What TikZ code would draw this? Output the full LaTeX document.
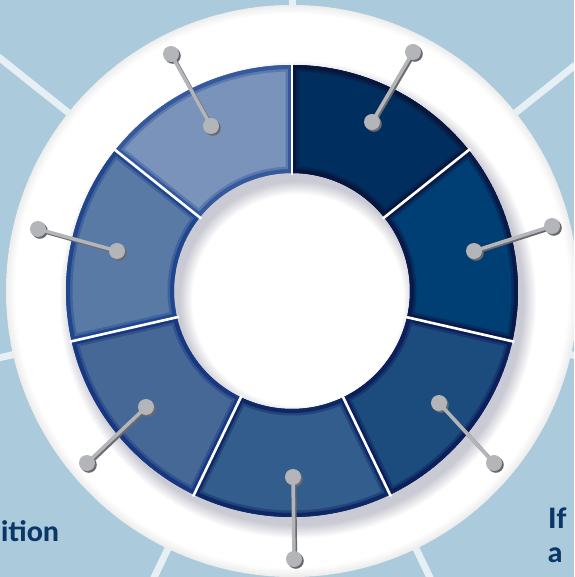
\documentclass[tikz,border=0pt]{standalone}
\usepackage{fontspec}
\setmainfont{Lato}
\newfontfamily\capfont{Lato Heavy}
\usetikzlibrary{calc}

\definecolor{bgblue}{HTML}{ABCADC}
\definecolor{navytext}{HTML}{0B3768}
\definecolor{pingray}{HTML}{B4B5B9}
\definecolor{pinshade}{HTML}{6A6B70}
\definecolor{segA}{HTML}{002F5F}
\definecolor{segB}{HTML}{003F73}
\definecolor{segC}{HTML}{1B4C7D}
\definecolor{segD}{HTML}{335D8C}
\definecolor{segE}{HTML}{466896}
\definecolor{segF}{HTML}{5A7AA6}
\definecolor{segG}{HTML}{7A93BB}
\definecolor{rimA}{HTML}{08163D}
\definecolor{rimB}{HTML}{0A1A48}
\definecolor{rimC}{HTML}{0C1F5A}
\definecolor{rimD}{HTML}{0E2866}
\definecolor{rimE}{HTML}{183780}
\definecolor{rimF}{HTML}{20468E}
\definecolor{rimG}{HTML}{35599C}

% one piece of the ring, from angle #1 down to angle #2
\newcommand{\ringpiece}[2]{(#1:118) -- (#1:226) arc[start angle=#1, end angle=#2, radius=226] -- (#2:118) arc[start angle=#2, end angle=#1, radius=118] -- cycle}

\begin{document}
\begin{tikzpicture}[
    x=1pt, y=1pt,
    ray/.style={white, opacity=0.7, line width=7pt},
    gap/.style={white, line width=2.6pt},
    ball/.style={circle, fill=pingray, inner sep=0pt, minimum size=16pt},
    pin/.style={pingray, line width=3.5pt},
    pinshadow/.style={pinshade, line width=3.5pt},
    lbl/.style={font=\capfont\fontsize{28}{32}\selectfont, text=navytext, inner sep=0pt}
]
\useasboundingbox (-292,-286) rectangle (282,291);
\clip (-292,-286) rectangle (282,291);

% background
\fill[bgblue] (-292,-286) rectangle (282,291);
\foreach \a in {90,38.57,-12.86,-64.29,-115.71,-167.14,141.43}
    \draw[ray] (\a:250) -- (\a:460);

% white disc with soft rim
\fill[white] (0,0) circle[radius=286];
\begin{scope}
    \clip (0,0) circle[radius=286];
    \foreach \w in {2,4,...,18}
        \draw[black!60!blue, opacity=0.007, line width=\w pt] (0,0) circle[radius=286];
\end{scope}

% shadow of the ring
\foreach \k in {0,...,8}
    \fill[black!80!blue, opacity=0.022, even odd rule] (6,-9) circle[radius={226+\k*1.5}] (6,-9) circle[radius={118-\k*1.5}];

% ring pieces
\foreach \scol/\bcol [count=\i] in {segA/rimA, segB/rimB, segC/rimC, segD/rimD, segE/rimE, segF/rimF, segG/rimG} {
    \pgfmathsetmacro{\aa}{90-(\i-1)*360/7}
    \pgfmathsetmacro{\ab}{90-\i*360/7}
    \begin{scope}
        \clip \ringpiece{\aa}{\ab};
        \fill[\scol] \ringpiece{\aa}{\ab};
        \draw[line width=13pt, \bcol!45!\scol] \ringpiece{\aa}{\ab};
        \draw[line width=8pt, \bcol] \ringpiece{\aa}{\ab};
    \end{scope}
}
\foreach \a in {90,38.57,-12.86,-64.29,-115.71,-167.14,141.43}
    \draw[gap] (\a:116) -- (\a:228);

% pins
\foreach \ix/\iy/\ox/\oy [count=\i] in {80/169/121/239, 182/40/260/65, 147/-112/202/-172, 1/-186/2/-268, -146/-116/-205/-172, -175/40/-254/62, -81/165/-121/237} {
    \coordinate (in\i) at (\ix,\iy);
    \coordinate (out\i) at (\ox,\oy);
    \draw[pinshadow] ($(in\i)+(1.5,-1.5)$) -- ($(out\i)+(1.5,-1.5)$);
    \fill[pinshade] ($(in\i)+(1.8,-1.8)$) circle[radius=8];
    \fill[pinshade] ($(out\i)+(1.8,-1.8)$) circle[radius=8];
    \draw[pin] (in\i) -- (out\i);
    \node[ball] (inball\i) at (in\i) {};
    \node[ball] (outball\i) at (out\i) {};
}

% cut-off captions
\node[lbl, anchor=base west] (ition) at (-291,-250) {ition};
\node[lbl, anchor=base west] (iftext) at (256,-237) {If};
\node[lbl, anchor=base west] (atext) at (256,-271) {a};

\end{tikzpicture}
\end{document}
